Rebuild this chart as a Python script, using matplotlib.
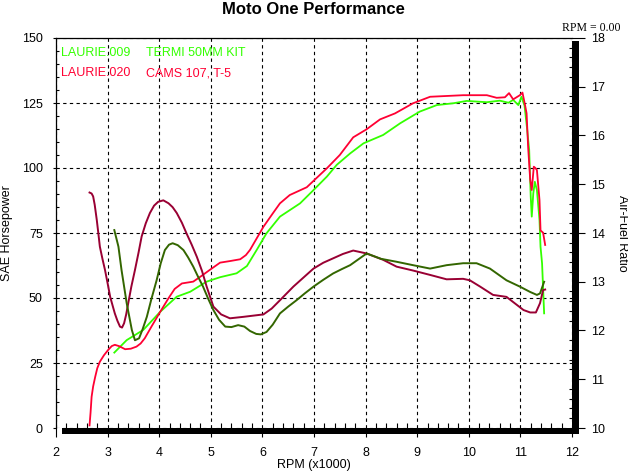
import matplotlib
matplotlib.use("Agg")
import matplotlib.pyplot as plt
from matplotlib.patches import Rectangle
from matplotlib.ticker import MultipleLocator

plt.rcParams['font.family'] = ['Liberation Sans', 'DejaVu Sans']

# ---------------- data ----------------
hp_green_rpm = [3.13, 3.37, 3.69, 4.02, 4.34, 4.60, 4.92, 5.18, 5.50, 5.70, 5.89, 6.08, 6.34, 6.73,
                6.99, 7.25, 7.44, 7.70, 7.96, 8.34, 8.67, 9.05, 9.38, 9.70, 9.96, 10.35, 10.60,
                10.77, 10.86, 10.96, 11.02, 11.08, 11.13, 11.17, 11.20, 11.22, 11.25, 11.28,
                11.32, 11.37, 11.39, 11.42, 11.46]
hp_green = [29, 33.8, 37.7, 44.7, 50.5, 52.4, 56.3, 58.0, 59.5, 62.3, 68.5, 74.9, 81.3, 86.4,
            91.5, 96.7, 101.2, 105.6, 109.5, 112.7, 117.2, 121.7, 124.2, 124.9, 125.8, 125.3, 125.9,
            125.1, 126.2, 124.2, 127.4, 124, 115, 107, 89, 81.3, 90.3, 94.7,
            91.5, 80, 69.7, 63.3, 44.1]

hp_red_rpm = [2.65, 2.67, 2.69, 2.72, 2.76, 2.80, 2.85, 2.93, 3.01, 3.08, 3.14, 3.22, 3.34, 3.45,
              3.56, 3.64, 3.72, 3.85, 4.02, 4.18, 4.30, 4.44, 4.66, 4.82, 4.98, 5.18, 5.37, 5.57,
              5.68, 5.76, 6.02, 6.20, 6.34, 6.53, 6.86, 7.02, 7.25, 7.50, 7.76, 8.02, 8.28, 8.57,
              8.92, 9.25, 9.89, 10.35, 10.54, 10.70, 10.78, 10.86, 10.99, 11.04, 11.09, 11.12,
              11.15, 11.19, 11.22, 11.24, 11.26, 11.29, 11.32, 11.37, 11.39, 11.44, 11.48]
hp_red = [1, 6, 12, 16, 19.7, 23, 25.5, 28, 30, 31.5, 32, 31.5, 30.3, 30.5,
          31.3, 32.5, 34.5, 39, 44.7, 49.9, 53.5, 55.6, 56.3, 58.5, 60.8, 63.6, 64.2, 64.9,
          66.5, 68.5, 77.4, 82.5, 86.4, 89.6, 92.6, 95.6, 99.9, 105, 111.8, 114.9, 118.7, 121,
          124.9, 127.4, 128, 128, 127, 127.2, 128.8, 126.4, 128, 129, 124.2, 121,
          108, 95.4, 91.5, 96, 100.5, 100, 99.2, 87.7, 76, 75.1, 70.4]

afr_green_rpm = [3.13, 3.21, 3.27, 3.37, 3.47, 3.53, 3.61, 3.68, 3.76, 3.85, 3.95, 4.03, 4.11, 4.19,
                 4.26, 4.36, 4.47, 4.56, 4.66, 4.75, 4.85, 4.95, 5.05, 5.16, 5.28, 5.40, 5.53, 5.65,
                 5.76, 5.88, 5.97, 6.08, 6.20, 6.34, 6.50, 6.66, 6.82, 6.99, 7.18, 7.37, 7.54, 7.70,
                 7.86, 8.02, 8.30, 8.60, 8.92, 9.25, 9.57, 9.89, 10.15, 10.41, 10.73, 10.99, 11.19,
                 11.32, 11.38, 11.46]
afr_green = [14.06, 13.72, 13.24, 12.56, 12.01, 11.80, 11.84, 12.03, 12.28, 12.65, 13.03, 13.38, 13.65, 13.76,
             13.79, 13.75, 13.65, 13.50, 13.31, 13.11, 12.90, 12.65, 12.42, 12.22, 12.08, 12.07, 12.11, 12.08,
             11.99, 11.93, 11.92, 11.97, 12.12, 12.35, 12.49, 12.62, 12.76, 12.90, 13.04, 13.17, 13.26, 13.34,
             13.46, 13.58, 13.47, 13.41, 13.34, 13.27, 13.34, 13.38, 13.38, 13.27, 13.03, 12.90, 12.79,
             12.73, 12.76, 13.00]

afr_red_rpm = [2.65, 2.69, 2.72, 2.75, 2.79, 2.82, 2.85, 2.90, 2.95, 3.00, 3.05, 3.10, 3.14, 3.19,
               3.24, 3.28, 3.32, 3.36, 3.40, 3.46, 3.53, 3.60, 3.66, 3.74, 3.82, 3.90, 3.98, 4.08,
               4.18, 4.26, 4.34, 4.44, 4.53, 4.63, 4.73, 4.83, 4.92, 5.05, 5.20, 5.37, 5.63, 6.02,
               6.18, 6.34, 6.60, 6.80, 6.99, 7.18, 7.37, 7.56, 7.76, 8.02, 8.34, 8.60, 8.92, 9.25,
               9.57, 9.89, 10.02, 10.22, 10.47, 10.73, 11.06, 11.19, 11.30, 11.38, 11.44, 11.48]
afr_red = [14.83, 14.81, 14.75, 14.58, 14.27, 14.00, 13.72, 13.47, 13.24, 12.97, 12.69, 12.50, 12.35, 12.20,
           12.08, 12.06, 12.15, 12.33, 12.56, 12.90, 13.24, 13.60, 13.93, 14.20, 14.41, 14.56, 14.64, 14.67,
           14.61, 14.53, 14.41, 14.21, 13.99, 13.76, 13.51, 13.22, 12.90, 12.49, 12.33, 12.25, 12.28, 12.33,
           12.45, 12.62, 12.90, 13.09, 13.27, 13.39, 13.48, 13.57, 13.64, 13.58, 13.45, 13.31, 13.23, 13.14,
           13.05, 13.06, 13.03, 12.90, 12.73, 12.69, 12.42, 12.37, 12.37, 12.56, 12.83, 12.84]

hp_ticks = [0, 25, 50, 75, 100, 125, 150]
afr_ticks = [10, 11, 12, 13, 14, 15, 16, 17, 18]
rpm_ticks = [2, 3, 4, 5, 6, 7, 8, 9, 10, 11, 12]

run1_name, run1_desc = "LAURIE.009", "TERMI 50MM KIT"
run2_name, run2_desc = "LAURIE.020", "CAMS 107, T-5"

C_GREEN = '#33ff00'
C_RED = '#ff0033'
C_DGREEN = '#336600'
C_DRED = '#990033'

# ---------------- figure ----------------
W, H = 628, 473
fig = plt.figure(figsize=(W / 100, H / 100), dpi=100)
fig.patch.set_facecolor('white')

def fx(px):
    return px / W

def fy(py):
    return (H - py) / H

L, R, T, B = 56, 572, 38, 428
ax = fig.add_axes([fx(L), fy(B), (R - L) / W, (B - T) / H])
ax.set_xlim(2, 12)
ax.set_ylim(0, 150)
ax.set_xticks(rpm_ticks)
ax.set_yticks(hp_ticks)
ax.xaxis.set_minor_locator(MultipleLocator(0.2))
ax.yaxis.set_minor_locator(MultipleLocator(5))

for s in ['bottom', 'right']:
    ax.spines[s].set_visible(False)
for s in ['left', 'top']:
    ax.spines[s].set_linewidth(0.9)

ax.grid(True, which='major', color='black', linestyle=(0, (3, 3)), linewidth=0.8)
ax.tick_params(axis='x', which='major', direction='out', length=6.5, width=0.8,
               pad=7, labelsize=9)
ax.tick_params(axis='x', which='minor', direction='in', length=3.5, width=0.8)
ax.tick_params(axis='y', which='major', direction='out', length=2.5, width=0.8,
               pad=7, labelsize=9)
ax.tick_params(axis='y', which='minor', direction='in', length=2.5, width=0.8)

ax.plot(hp_green_rpm, hp_green, color=C_GREEN, lw=1.3, zorder=3)
ax.plot(hp_red_rpm, hp_red, color=C_RED, lw=1.3, zorder=4)

ax2 = ax.twinx()
ax2.set_ylim(10, 18)
ax2.set_yticks(afr_ticks)
ax2.yaxis.set_minor_locator(MultipleLocator(0.2))
for s in ax2.spines.values():
    s.set_visible(False)
ax2.tick_params(axis='y', which='major', direction='out', length=9, width=0.8,
                pad=5, labelsize=9)
ax2.tick_params(axis='y', which='minor', direction='in', length=2.5, width=0.8)

ax2.plot(afr_red_rpm, afr_red, color=C_DRED, lw=1.4, zorder=3)
ax2.plot(afr_green_rpm, afr_green, color=C_DGREEN, lw=1.4, zorder=4)

# shadow-style thick frame (bottom and right)
fig.patches.append(Rectangle((fx(62), fy(434)), (579 - 62) / W, 6 / H,
                             transform=fig.transFigure, facecolor='black',
                             edgecolor='none', zorder=10))
fig.patches.append(Rectangle((fx(572), fy(434)), 7 / W, (434 - 41) / H,
                             transform=fig.transFigure, facecolor='black',
                             edgecolor='none', zorder=10))

# legend texts
fig.text(fx(61), fy(53), run1_name, color=C_GREEN, fontsize=9, va='center', ha='left')
fig.text(fx(146), fy(53), run1_desc, color=C_GREEN, fontsize=9, va='center', ha='left')
fig.text(fx(61), fy(73), run2_name, color=C_RED, fontsize=9, va='center', ha='left')
fig.text(fx(146), fy(73), run2_desc, color=C_RED, fontsize=9, va='center', ha='left')

# titles and labels
fig.text(fx(313), fy(14), "Moto One Performance", fontsize=12, fontweight='bold',
         ha='center', va='baseline')
fig.text(fx(620), fy(31), "RPM = 0.00", fontsize=8.5, family=['Liberation Serif'],
         ha='right', va='baseline')
fig.text(fx(314), fy(465), "RPM (x1000)", fontsize=9, ha='center', va='center')
fig.text(fx(7), fy(233), "SAE Horsepower", fontsize=9, ha='center', va='center', rotation=90)
fig.text(fx(622), fy(233), "Air-Fuel Ratio", fontsize=9, ha='center', va='center', rotation=270)

fig.savefig("out.png", dpi=100, facecolor='white')
